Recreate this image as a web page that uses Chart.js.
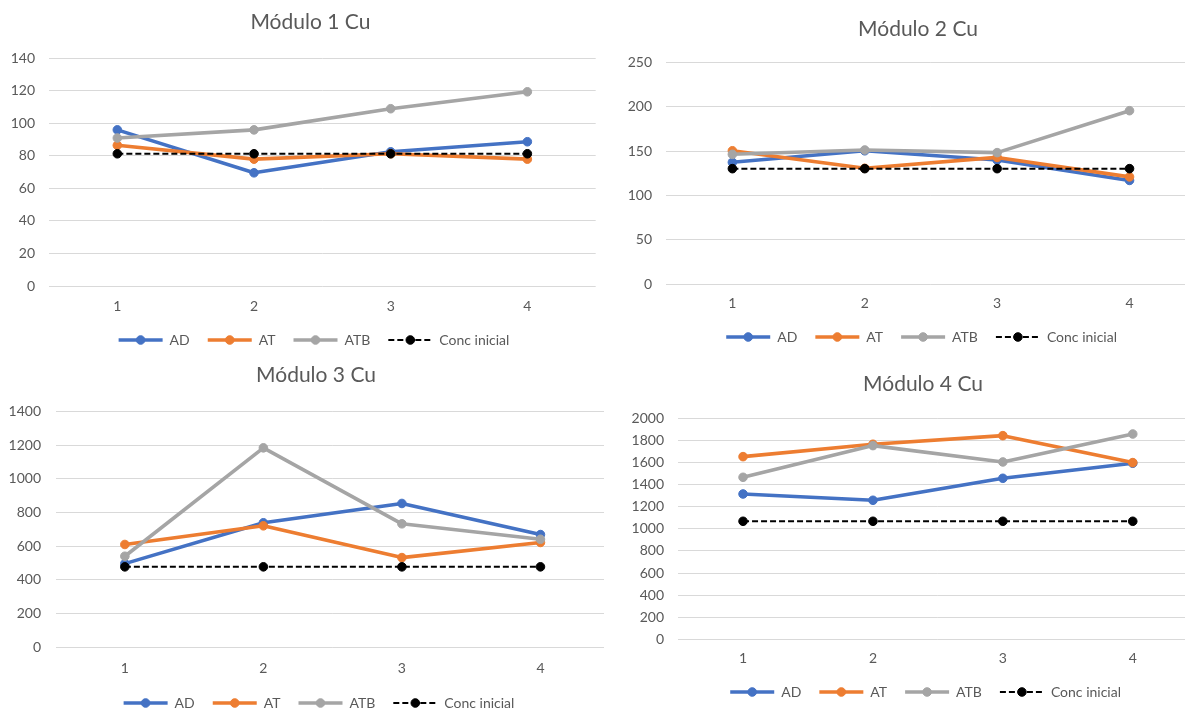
<!DOCTYPE html>
<html>
<head>
<meta charset="utf-8" />
<title>Módulos Cu</title>
<script src="https://cdn.jsdelivr.net/npm/chart.js"></script>
<style>
  html, body { margin: 0; padding: 0; background: #fff; overflow: hidden; }
  body { width: 1185px; height: 710px; position: relative; }
  .panel { position: absolute; overflow: hidden; background: #fff; }
  .panel canvas { position: absolute; left: 0; top: 0; }
</style>
</head>
<body>
<div class="panel" style="left:0;top:0;width:601px;height:357px"><canvas id="c1"></canvas></div>
<div class="panel" style="left:602px;top:0;width:583px;height:357px"><canvas id="c2"></canvas></div>
<div class="panel" style="left:0;top:357px;width:604px;height:353px"><canvas id="c3"></canvas></div>
<div class="panel" style="left:604px;top:357px;width:581px;height:353px"><canvas id="c4"></canvas></div>
<script>
// data
const categories = ['1', '2', '3', '4'];
const seriesNames = ['AD', 'AT', 'ATB', 'Conc inicial'];
const titles = ['Módulo 1 Cu', 'Módulo 2 Cu', 'Módulo 3 Cu', 'Módulo 4 Cu'];

const m1AD = [96, 69.6, 82.5, 88.7];
const m1AT = [86.5, 78, 81.3, 78];
const m1ATB = [91, 96, 109, 119.4];
const m1Conc = [81.3, 81.3, 81.3, 81.3];
const m1Ticks = [0, 20, 40, 60, 80, 100, 120, 140];

const m2AD = [137.5, 150.5, 140, 117];
const m2AT = [150.5, 130.7, 143, 121];
const m2ATB = [146.5, 151.4, 148.4, 195.8];
const m2Conc = [130.3, 130.3, 130.3, 130.3];
const m2Ticks = [0, 50, 100, 150, 200, 250];

const m3AD = [496, 739, 854, 669];
const m3AT = [610, 721, 532, 622];
const m3ATB = [540, 1185, 733, 641];
const m3Conc = [477, 477, 477, 477];
const m3Ticks = [0, 200, 400, 600, 800, 1000, 1200, 1400];

const m4AD = [1315, 1258, 1457, 1593];
const m4AT = [1653, 1765, 1843, 1599];
const m4ATB = [1466, 1753, 1605, 1858];
const m4Conc = [1068, 1068, 1068, 1068];
const m4Ticks = [0, 200, 400, 600, 800, 1000, 1200, 1400, 1600, 1800, 2000];

const colors = ['#4472C4', '#ED7D31', '#A5A5A5', '#000000'];
const textColor = '#595959';
const fontFamily = 'Lato, "Open Sans", sans-serif';

// excel centres title and legend on the whole chart box, not on the canvas we clip
const centerBoxes = {
  id: 'centerBoxes',
  afterLayout(chart, args, opts) {
    const move = (b, c) => {
      if (!b || c == null) return;
      const half = (b.right - b.left) / 2;
      b.left = c - half;
      b.right = c + half;
    };
    move(chart.titleBlock, opts.title);
    move(chart.legend, opts.legend);
  }
};

// excel style legend: line with a marker in the middle
const legendMarkers = {
  id: 'legendMarkers',
  afterDraw(chart) {
    const legend = chart.legend;
    if (!legend || !legend.legendHitBoxes) return;
    const ctx = chart.ctx;
    const bw = chart.options.plugins.legend.labels.pointStyleWidth;
    legend.legendItems.forEach((item, i) => {
      const hb = legend.legendHitBoxes[i];
      const ds = chart.data.datasets[item.datasetIndex];
      ctx.save();
      ctx.beginPath();
      ctx.arc(hb.left + bw / 2, hb.top + hb.height / 2, ds.pointRadius, 0, Math.PI * 2);
      ctx.fillStyle = ds.pointBackgroundColor;
      ctx.fill();
      ctx.lineWidth = 1;
      ctx.strokeStyle = ds.pointBorderColor;
      ctx.stroke();
      ctx.restore();
    });
  }
};

function moduleChart(id, title, series, yTicks, box) {
  const canvas = document.getElementById(id);
  canvas.width = box.w;
  canvas.height = box.h;
  const tickFont = { family: fontFamily, size: 14 };
  new Chart(canvas, {
    type: 'line',
    data: {
      labels: categories,
      datasets: series.map((vals, i) => ({
        label: seriesNames[i],
        data: vals,
        borderColor: colors[i],
        backgroundColor: colors[i],
        borderWidth: i === 3 ? 2 : 3.6,
        borderDash: i === 3 ? [6, 3] : [],
        borderCapStyle: i === 3 ? 'butt' : 'round',
        borderJoinStyle: 'round',
        pointRadius: 4.3,
        pointBorderWidth: 1,
        pointBackgroundColor: colors[i],
        pointBorderColor: colors[i],
        tension: 0,
        fill: false,
        order: 3 - i
      }))
    },
    options: {
      responsive: false,
      animation: false,
      layout: { padding: 0 },
      plugins: {
        centerBoxes: { title: box.tc, legend: box.lc },
        title: {
          display: true,
          text: title,
          color: textColor,
          font: { family: fontFamily, size: 21, weight: 'normal' },
          padding: { top: box.tt, bottom: box.tb }
        },
        legend: {
          position: 'bottom',
          labels: {
            usePointStyle: true,
            pointStyle: 'line',
            pointStyleWidth: 44,
            padding: 18,
            color: textColor,
            font: { family: fontFamily, size: 14 },
            sort: (a, b) => a.datasetIndex - b.datasetIndex,
            generateLabels: chart =>
              Chart.defaults.plugins.legend.labels.generateLabels(chart).map(item => {
                const ds = chart.data.datasets[item.datasetIndex];
                item.lineWidth = ds.borderWidth;
                item.lineDash = ds.borderDash;
                item.strokeStyle = ds.borderColor;
                item.lineCap = 'butt';
                return item;
              })
          }
        },
        tooltip: { enabled: false }
      },
      scales: {
        x: {
          offset: true,
          grid: { display: false, drawTicks: false },
          border: { display: false },
          ticks: { padding: box.xpad, color: textColor, font: tickFont },
          afterFit: s => { s.height = box.xh; }
        },
        y: {
          min: yTicks[0],
          max: yTicks[yTicks.length - 1],
          grid: { color: '#D9D9D9', lineWidth: 1, drawTicks: false },
          border: { display: false },
          ticks: {
            padding: box.ypad, autoSkip: false, color: textColor, font: tickFont,
            callback: v => String(v)
          },
          afterBuildTicks: s => { s.ticks = yTicks.map(v => ({ value: v })); },
          afterFit: s => { s.width = box.yw; }
        }
      }
    },
    plugins: [centerBoxes, legendMarkers]
  });
}

moduleChart('c1', titles[0], [m1AD, m1AT, m1ATB, m1Conc], m1Ticks,
  { w: 601, h: 357, yw: 49, ypad: 14, tt: 10.1, tb: 23, xh: 29, xpad: 11.6, tc: 310.4, lc: 314 });
moduleChart('c2', titles[1], [m2AD, m2AT, m2ATB, m2Conc], m2Ticks,
  { w: 599, h: 354, yw: 64.2, ypad: 14.2, tt: 16.7, tb: 20.8, xh: 28, xpad: 10.6, tc: 316, lc: 319.6 });
moduleChart('c3', titles[2], [m3AD, m3AT, m3ATB, m3Conc], m3Ticks,
  { w: 615, h: 363, yw: 55.6, ypad: 14.6, tt: 6.1, tb: 23.4, xh: 31, xpad: 12.6, tc: 316, lc: 319 });
moduleChart('c4', titles[3], [m4AD, m4AT, m4ATB, m4Conc], m4Ticks,
  { w: 599, h: 352, yw: 74.1, ypad: 14.1, tt: 14.7, tb: 21.4, xh: 27.7, xpad: 10.6, tc: 319, lc: 321.6 });
</script>
</body>
</html>
